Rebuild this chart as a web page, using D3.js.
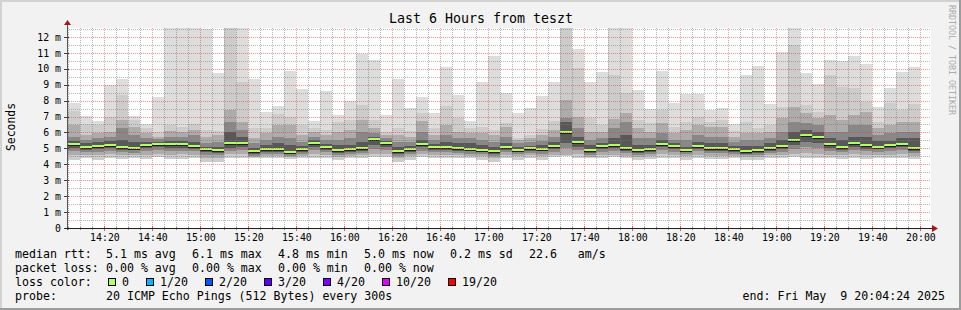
<!doctype html>
<html>
<head>
<meta charset="utf-8">
<title>Last 6 Hours from teszt</title>
<script src="https://cdnjs.cloudflare.com/ajax/libs/d3/7.8.5/d3.min.js"></script>
<style>
  body { margin: 0; background: #fff; }
  svg { display: block; font-family: "DejaVu Sans Mono", monospace; }
  text { white-space: pre; }
</style>
</head>
<body>
<div id="chart"></div>
<script>
// smokeping data, one value per 5 minute step (bar end times 14:10 ... 20:00), in ms
const pingMax = [7.85,7.03,6.70,9.00,9.36,7.03,6.53,8.23,12.56,12.56,12.56,12.50,9.73,12.56,12.56,9.36,7.29,7.66,9.86,8.73,6.70,8.60,7.10,8.00,
  10.93,10.55,7.10,9.36,7.56,8.23,7.20,10.11,8.35,6.72,9.17,10.80,8.48,7.20,7.54,8.29,9.17,12.56,11.24,9.19,9.80,12.56,12.56,8.67,
  7.47,9.86,7.85,8.42,8.42,7.41,7.52,6.53,9.61,10.15,7.77,11.03,12.56,9.73,9.02,10.55,10.51,10.80,10.30,7.60,8.77,9.80,10.11];
const ping2 = [7.35,6.51,6.47,6.99,8.35,6.78,6.26,6.05,6.47,6.36,6.51,6.15,6.09,12.56,9.19,6.30,6.26,7.14,6.99,6.47,6.30,6.15,6.68,6.78,
  7.73,6.78,6.05,6.26,6.09,7.20,6.30,7.68,6.89,6.26,6.36,6.15,6.57,5.67,5.84,6.22,6.72,12.56,10.03,6.89,6.47,9.61,8.46,6.78,
  6.57,7.41,6.36,6.68,6.99,6.68,6.78,6.09,6.68,6.26,6.47,7.62,11.49,7.73,7.31,9.61,8.88,8.77,7.93,6.68,7.83,7.41,7.77];
const ping3 = [6.47,5.84,5.95,6.05,6.78,6.36,5.95,5.74,6.09,6.05,6.15,5.74,5.84,7.41,6.68,5.63,5.95,6.47,6.47,5.84,6.05,5.84,6.05,6.15,
  6.78,6.26,5.84,5.84,5.74,6.72,5.84,6.47,6.05,5.95,5.95,5.84,6.36,5.53,5.63,5.84,6.15,8.04,6.99,6.05,6.05,6.85,7.20,6.26,
  6.05,6.57,5.95,6.15,6.47,6.36,6.36,5.74,5.95,5.95,6.05,6.89,7.62,7.20,6.89,7.10,6.78,7.10,7.31,6.26,6.47,6.68,6.68];
const ping4 = [5.74,5.53,5.63,5.74,6.26,5.84,5.63,5.57,5.74,5.74,5.84,5.32,5.42,6.68,6.15,5.32,5.53,5.74,5.63,5.42,5.74,5.53,5.53,5.63,
  6.05,5.95,5.63,5.42,5.42,6.05,5.53,5.84,5.63,5.63,5.53,5.42,5.74,5.32,5.38,5.46,5.74,6.93,6.26,5.53,5.63,6.26,6.68,5.63,
  5.63,5.95,5.53,5.53,5.84,5.74,5.74,5.42,5.53,5.53,5.63,6.05,6.68,6.57,6.47,6.05,6.05,6.47,6.47,5.84,5.95,6.05,6.05];
const ping5 = [5.48,5.32,5.38,5.46,5.53,5.42,5.42,5.42,5.46,5.46,5.42,5.11,5.11,6.05,5.74,5.05,5.21,5.32,5.21,5.17,5.53,5.27,5.21,5.21,
  5.42,5.74,5.46,5.11,5.17,5.53,5.27,5.38,5.32,5.32,5.21,5.11,5.32,5.11,5.17,5.21,5.42,6.68,5.74,5.21,5.32,5.63,5.84,5.21,
  5.21,5.53,5.32,5.11,5.42,5.32,5.32,5.17,5.17,5.17,5.32,5.53,6.05,6.15,6.05,5.63,5.53,5.74,5.74,5.46,5.46,5.63,5.63];
const medianRtt = [5.27,5.09,5.17,5.23,5.07,5.05,5.23,5.30,5.25,5.30,5.17,4.96,4.88,5.32,5.32,4.81,4.94,4.94,4.79,4.94,5.36,5.09,4.90,4.94,
  5.00,5.57,5.36,4.84,4.96,5.30,5.09,5.09,5.05,4.98,4.92,4.84,5.07,4.92,5.00,4.98,5.17,6.05,5.38,4.88,5.17,5.23,5.02,4.90,
  4.94,5.30,5.13,4.92,5.17,5.00,5.00,4.96,4.84,4.90,5.02,5.15,5.53,5.82,5.69,5.25,5.07,5.34,5.19,5.11,5.21,5.30,5.02];
const low5 = [5.05,4.92,4.96,5.02,4.90,4.88,5.00,5.07,5.02,5.05,4.96,4.75,4.70,5.05,5.09,4.65,4.75,4.77,4.63,4.77,5.11,4.90,4.73,4.77,
  4.84,5.21,5.11,4.67,4.79,5.07,4.90,4.90,4.86,4.81,4.75,4.67,4.90,4.75,4.84,4.81,4.96,5.32,5.11,4.71,4.96,5.02,4.84,4.73,
  4.77,5.07,4.94,4.75,4.98,4.84,4.84,4.79,4.67,4.73,4.84,4.96,5.21,5.42,5.32,5.02,4.90,5.11,4.98,4.94,5.00,5.07,4.84];
const low4 = [4.86,4.77,4.79,4.84,4.75,4.73,4.84,4.88,4.84,4.86,4.81,4.60,4.56,4.86,4.90,4.54,4.63,4.63,4.52,4.65,4.92,4.75,4.60,4.65,
  4.71,4.96,4.90,4.54,4.65,4.86,4.75,4.75,4.71,4.67,4.63,4.54,4.75,4.63,4.71,4.67,4.79,5.00,4.90,4.60,4.79,4.84,4.71,4.60,
  4.65,4.88,4.79,4.63,4.81,4.71,4.71,4.67,4.56,4.60,4.71,4.79,4.98,5.07,5.02,4.84,4.75,4.90,4.81,4.79,4.84,4.88,4.71];
const low3 = [4.60,4.58,4.56,4.63,4.58,4.58,4.60,4.67,4.60,4.63,4.60,4.42,4.40,4.65,4.67,4.44,4.50,4.52,4.44,4.54,4.65,4.58,4.48,4.54,
  4.56,4.63,4.63,4.42,4.50,4.63,4.58,4.58,4.56,4.54,4.50,4.42,4.58,4.50,4.56,4.52,4.60,4.58,4.63,4.48,4.60,4.60,4.54,4.48,
  4.52,4.63,4.58,4.50,4.60,4.54,4.54,4.52,4.44,4.48,4.56,4.58,4.67,4.71,4.67,4.60,4.56,4.63,4.58,4.60,4.60,4.63,4.54];
const pingMin = [4.27,4.38,4.27,4.42,4.33,4.38,4.31,4.48,4.33,4.33,4.38,4.17,4.12,4.38,4.38,4.38,4.38,4.38,4.33,4.42,4.38,4.38,4.27,4.42,
  4.38,4.48,4.48,4.17,4.27,4.48,4.38,4.38,4.38,4.38,4.27,4.17,4.38,4.27,4.38,4.27,4.48,4.50,4.42,4.38,4.38,4.48,4.38,4.27,
  4.33,4.42,4.38,4.27,4.38,4.33,4.33,4.38,4.27,4.27,4.38,4.38,4.48,4.42,4.38,4.38,4.33,4.38,4.33,4.38,4.38,4.42,4.33];

const yTicks = [0,1,2,3,4,5,6,7,8,9,10,11,12];
const titleText = 'Last 6 Hours from teszt';
const rttLegend = ['median rtt:', '5.1 ms avg', '6.1 ms max', '4.8 ms min', '5.0 ms now', '0.2 ms sd', '22.6   am/s'];
const lossLegend = ['packet loss:', '0.00 % avg', '0.00 % max', '0.00 % min', '0.00 % now'];
const lossLabels = ['0', '1/20', '2/20', '3/20', '4/20', '10/20', '19/20'];
const lossColors = ['#b0ff64', '#00b8ff', '#0059ff', '#5e00ff', '#7e00ff', '#dd00ff', '#ff0000'];
const probeText = '20 ICMP Echo Pings (512 Bytes) every 300s';
const endText = 'end: Fri May  9 20:04:24 2025';

// time range
const startT = new Date(2025, 4, 9, 14, 4, 24);
const endT = new Date(2025, 4, 9, 20, 4, 24);
const firstEnd = new Date(2025, 4, 9, 14, 10, 0);

const W = 961, H = 310;
const pLeft = 67, pRight = 931, pTop = 28, pBottom = 228;

const x = d3.scaleTime().domain([startT, endT]).range([pLeft, pRight]);
const y = d3.scaleLinear().domain([0, 12.56]).range([pBottom, pTop]);

const svg = d3.select('#chart').append('svg')
  .attr('width', W).attr('height', H)
  .attr('shape-rendering', 'crispEdges');

// background + 3d frame
svg.append('rect').attr('width', W).attr('height', H).attr('fill', '#f2f2f2');
svg.append('rect').attr('x', 0).attr('y', 0).attr('width', W).attr('height', 2).attr('fill', '#d2d2d2');
svg.append('rect').attr('x', 0).attr('y', 0).attr('width', 2).attr('height', H).attr('fill', '#d2d2d2');
svg.append('rect').attr('x', W - 2).attr('y', 0).attr('width', 2).attr('height', H).attr('fill', '#9c9c9c');
svg.append('rect').attr('x', 0).attr('y', H - 2).attr('width', W).attr('height', 2).attr('fill', '#9c9c9c');

// canvas
svg.append('rect').attr('x', pLeft).attr('y', pTop).attr('width', pRight - pLeft).attr('height', pBottom - pTop).attr('fill', '#ffffff');

// bars
const idx = d3.range(medianRtt.length);
const barEnd = idx.map(i => d3.timeMinute.offset(firstEnd, 5 * i));
const barStart = barEnd.map(t => {
  const s = d3.timeMinute.offset(t, -5);
  return s < startT ? startT : s;
});
const bx = i => Math.round(x(barStart[i]));
const bw = i => Math.round(x(barEnd[i])) - bx(i);

// smoke layers, outermost first
const layers = [
  { lo: pingMin, hi: pingMax, color: '#dddddd' },
  { lo: pingMin, hi: ping2, color: '#cccccc' },
  { lo: low3, hi: ping3, color: '#acacac' },
  { lo: low4, hi: ping4, color: '#888888' },
  { lo: low5, hi: ping5, color: '#585858' }
];

layers.forEach(L => {
  svg.append('g').selectAll('rect')
    .data(idx)
    .join('rect')
    .attr('x', bx)
    .attr('width', bw)
    .attr('y', i => Math.round(y(L.hi[i])))
    .attr('height', i => Math.round(y(L.lo[i])) - Math.round(y(L.hi[i])))
    .attr('fill', L.color);
});

// median: dark line + loss colored band
svg.append('g').selectAll('rect')
  .data(idx)
  .join('rect')
  .attr('x', bx).attr('width', bw)
  .attr('y', i => Math.round(y(medianRtt[i])) + 1)
  .attr('height', 1)
  .attr('fill', '#202020');
svg.append('g').selectAll('rect')
  .data(idx)
  .join('rect')
  .attr('x', bx).attr('width', bw)
  .attr('y', i => Math.round(y(medianRtt[i])) - 1)
  .attr('height', 2)
  .attr('fill', lossColors[0]);

// grid
const grid = svg.append('g');
const minorY = d3.range(1, 26).map(k => k * 0.5).filter(v => v % 1 !== 0 && v <= 12.56);
const majorY = yTicks.filter(v => v > 0);
const minorX = d3.timeMinute.every(5).range(startT, endT).filter(t => t.getMinutes() % 20 !== 0);
const majorX = d3.timeMinute.every(20).range(startT, endT);
const minorCol = 'rgba(120,120,120,0.55)', majorCol = 'rgba(220,50,50,0.5)';

grid.selectAll('.hmin').data(minorY).join('line')
  .attr('x1', pLeft).attr('x2', pRight)
  .attr('y1', d => Math.round(y(d)) + 0.5).attr('y2', d => Math.round(y(d)) + 0.5)
  .attr('stroke', minorCol).attr('stroke-dasharray', '1,1');
grid.selectAll('.vmin').data(minorX).join('line')
  .attr('x1', d => Math.round(x(d)) + 0.5).attr('x2', d => Math.round(x(d)) + 0.5)
  .attr('y1', pTop).attr('y2', pBottom)
  .attr('stroke', minorCol).attr('stroke-dasharray', '1,1');
grid.selectAll('.hmaj').data(majorY).join('line')
  .attr('x1', pLeft).attr('x2', pRight)
  .attr('y1', d => Math.round(y(d)) + 0.5).attr('y2', d => Math.round(y(d)) + 0.5)
  .attr('stroke', majorCol).attr('stroke-dasharray', '1,1');
grid.selectAll('.vmaj').data(majorX).join('line')
  .attr('x1', d => Math.round(x(d)) + 0.5).attr('x2', d => Math.round(x(d)) + 0.5)
  .attr('y1', pTop).attr('y2', pBottom)
  .attr('stroke', majorCol).attr('stroke-dasharray', '1,1');

// axis ticks
svg.append('g').selectAll('line').data(minorX).join('line')
  .attr('x1', d => Math.round(x(d)) + 0.5).attr('x2', d => Math.round(x(d)) + 0.5)
  .attr('y1', pBottom - 1).attr('y2', pBottom + 2).attr('stroke', '#909090');
svg.append('g').selectAll('line').data(majorX).join('line')
  .attr('x1', d => Math.round(x(d)) + 0.5).attr('x2', d => Math.round(x(d)) + 0.5)
  .attr('y1', pBottom - 2).attr('y2', pBottom + 3).attr('stroke', '#e06060');
svg.append('g').selectAll('line').data(yTicks).join('line')
  .attr('x1', pLeft - 3).attr('x2', pLeft + 2)
  .attr('y1', d => Math.round(y(d)) + 0.5).attr('y2', d => Math.round(y(d)) + 0.5)
  .attr('stroke', '#404040');

// axis lines + arrows
svg.append('line').attr('x1', pLeft + 0.5).attr('x2', pLeft + 0.5).attr('y1', pBottom + 2).attr('y2', 24)
  .attr('stroke', '#555');
svg.append('line').attr('x1', pLeft - 2).attr('x2', 934).attr('y1', pBottom + 0.5).attr('y2', pBottom + 0.5)
  .attr('stroke', '#202020');
svg.append('path').attr('d', `M${pLeft - 3},25 L${pLeft + 4},25 L${pLeft + 0.5},20 Z`)
  .attr('fill', '#a01818').attr('shape-rendering', 'auto');
svg.append('path').attr('d', `M932,${pBottom - 3} L932,${pBottom + 4} L938,${pBottom + 0.5} Z`)
  .attr('fill', '#a01818').attr('shape-rendering', 'auto');

// axis labels with d3 axes
const xAxis = svg.append('g').attr('transform', `translate(0,${pBottom})`)
  .call(d3.axisBottom(x).ticks(d3.timeMinute.every(20)).tickFormat(d3.timeFormat('%H:%M')).tickSize(0).tickPadding(7));
const yAxis = svg.append('g').attr('transform', `translate(${pLeft},0)`)
  .call(d3.axisLeft(y).tickValues(yTicks).tickFormat(d => d === 0 ? '0' : d + ' m').tickSize(0).tickPadding(6));
[xAxis, yAxis].forEach(a => {
  a.select('.domain').remove();
  a.selectAll('text').attr('font-family', '"DejaVu Sans Mono", monospace').attr('font-size', '9.9px').attr('fill', '#000');
});
xAxis.selectAll('text').attr('dy', '0.71em').attr('y', 6);

// title, unit, watermark
svg.append('text').attr('x', 481).attr('y', 23).attr('text-anchor', 'middle')
  .attr('font-size', '13.3px').attr('fill', '#000').text(titleText);
svg.append('text').attr('transform', 'translate(15,127) rotate(-90)').attr('text-anchor', 'middle')
  .attr('font-size', '11.4px').attr('fill', '#000').text('Seconds');
svg.append('text').attr('transform', 'translate(949,5) rotate(90)')
  .attr('font-size', '8.3px').attr('fill', '#ababab').text('RRDTOOL / TOBI OETIKER');

// legend
const lg = svg.append('g').attr('font-size', '11.6px').attr('fill', '#000');
const colX = [15, 106, 192, 278, 364, 450, 529];
rttLegend.forEach((s, i) => lg.append('text').attr('x', colX[i]).attr('y', 258).text(s));
lossLegend.forEach((s, i) => lg.append('text').attr('x', colX[i]).attr('y', 272).text(s));
lg.append('text').attr('x', colX[0]).attr('y', 286).text('loss color:');
let cx = 108;
lossLabels.forEach((s, i) => {
  lg.append('rect').attr('x', cx + 0.5).attr('y', 278.5).attr('width', 7).attr('height', 7)
    .attr('fill', lossColors[i]).attr('stroke', '#000');
  lg.append('text').attr('x', cx + 14).attr('y', 286).text(s);
  cx = cx + 15 + s.length * 7 + 16;
});
lg.append('text').attr('x', colX[0]).attr('y', 300).text('probe:');
lg.append('text').attr('x', colX[1]).attr('y', 300).text(probeText);
lg.append('text').attr('x', 945).attr('y', 300).attr('text-anchor', 'end').text(endText);
</script>
</body>
</html>
